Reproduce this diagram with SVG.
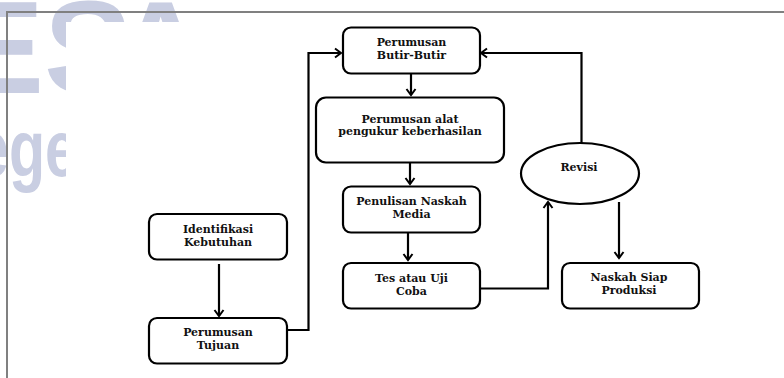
<svg xmlns="http://www.w3.org/2000/svg" width="784" height="378" viewBox="0 0 784 378">
<defs>
<style>
.wm{fill:#c9cee2;font-family:"Liberation Sans",Arial,sans-serif;font-weight:bold}
.box{fill:#fff;stroke:#000;stroke-width:2.2}
.lbl{font-family:"DejaVu Serif",serif;font-weight:bold;font-size:11px;fill:#111;text-anchor:middle}
.conn{fill:none;stroke:#000;stroke-width:2.2}
</style>
<marker id="ah" markerUnits="userSpaceOnUse" markerWidth="14" markerHeight="14" refX="8" refY="6" orient="auto">
<path d="M2,1.5 L8,6 L2,10.5" fill="none" stroke="#000" stroke-width="2"/>
</marker>
</defs>
<rect width="784" height="378" fill="#fff"/>
<g id="watermark">
<text class="wm" y="93" font-size="132"><tspan x="-44">E</tspan><tspan x="44">S</tspan><tspan x="113">A</tspan></text>
<text class="wm" x="-24" y="176" font-size="80" textLength="102" lengthAdjust="spacingAndGlyphs">ege</text>
</g>
<rect x="66" y="22" width="718" height="356" fill="#fff"/>
<path d="M7,378 V12 H784" fill="none" stroke="#808080" stroke-width="2"/>
<g id="connectors">
<path class="conn" d="M411,74 V95" marker-end="url(#ah)"/>
<path class="conn" d="M410,163 V184" marker-end="url(#ah)"/>
<path class="conn" d="M408,233 V260" marker-end="url(#ah)"/>
<path class="conn" d="M219,264 V316" marker-end="url(#ah)"/>
<path class="conn" d="M619,202 V258" marker-end="url(#ah)"/>
<path class="conn" d="M480,288.5 H548 V202" marker-end="url(#ah)"/>
<path class="conn" d="M581.5,143 V53 H481" marker-end="url(#ah)"/>
<path class="conn" d="M287,330 H308.5 V53 H341" marker-end="url(#ah)"/>
</g>
<g id="n-butir">
<rect class="box" x="343" y="27.5" width="137" height="46" rx="8"/>
<text class="lbl" x="411.5" y="46">Perumusan</text>
<text class="lbl" x="411.5" y="58.5">Butir-Butir</text>
</g>
<g id="n-alat">
<rect class="box" x="316" y="97.5" width="188" height="65" rx="10"/>
<text class="lbl" x="410" y="122.5">Perumusan alat</text>
<text class="lbl" x="410" y="135">pengukur keberhasilan</text>
</g>
<g id="n-penulisan">
<rect class="box" x="343" y="186.5" width="137" height="46" rx="8"/>
<text class="lbl" x="411.5" y="204.5">Penulisan Naskah</text>
<text class="lbl" x="411.5" y="217.5">Media</text>
</g>
<g id="n-tes">
<rect class="box" x="343" y="263" width="137" height="45.5" rx="8"/>
<text class="lbl" x="411.5" y="281.5">Tes atau Uji</text>
<text class="lbl" x="411.5" y="294.5">Coba</text>
</g>
<g id="n-identifikasi">
<rect class="box" x="149" y="214" width="138" height="45.5" rx="8"/>
<text class="lbl" x="218" y="232.5">Identifikasi</text>
<text class="lbl" x="218" y="245.5">Kebutuhan</text>
</g>
<g id="n-tujuan">
<rect class="box" x="149" y="318" width="138" height="45.5" rx="8"/>
<text class="lbl" x="218" y="335.5">Perumusan</text>
<text class="lbl" x="218" y="349">Tujuan</text>
</g>
<g id="n-revisi">
<ellipse class="box" cx="580" cy="173.5" rx="59" ry="30.5"/>
<text class="lbl" x="579" y="171">Revisi</text>
</g>
<g id="n-naskah">
<rect class="box" x="562" y="263" width="137" height="45.5" rx="8"/>
<text class="lbl" x="629" y="281">Naskah Siap</text>
<text class="lbl" x="629" y="294">Produksi</text>
</g>
</svg>
